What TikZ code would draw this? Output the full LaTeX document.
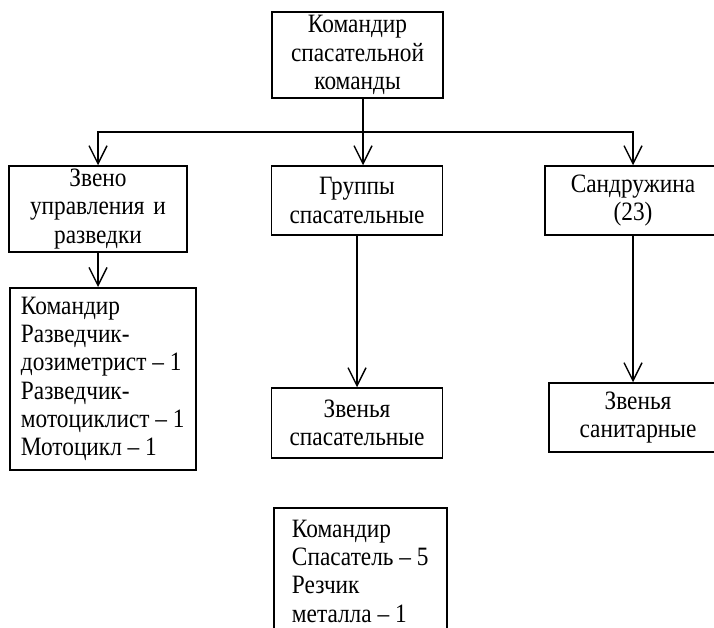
\documentclass[tikz,border=0pt]{standalone}
\usepackage{fontspec}
\setmainfont{Liberation Serif}[FakeStretch=0.88]
\usepackage{tikz}
\usetikzlibrary{arrows.meta,positioning,calc}
\hfuzz=20pt
\tikzstyle{unitBox}=[draw,line width=1.5pt,inner xsep=0pt,inner ysep=0pt,align=center]
\tikzstyle{listBox}=[draw,line width=1.5pt,inner xsep=0pt,align=left,anchor=north west]
\tikzstyle{flowLine}=[line width=1.4pt,-{Straight Barb[length=18pt,width=18pt]}]
\begin{document}
\begin{tikzpicture}[x=1pt,y=-1pt,font={\fontsize{26.5pt}{28.3pt}\selectfont}]
      \useasboundingbox (0,0) rectangle (714,628);
      \clip (0,0) rectangle (714,628);
      \node [unitBox,text width=171pt,minimum height=86pt] (cmd) at (357.5,55) {Командир\\спасательной\\команды};
      \node [unitBox,text width=178pt,minimum height=86pt] (zvUpr) at (98,209) {Звено\\управления и\\разведки};
      \node [unitBox,text width=171pt,minimum height=69pt] (grp) at (357,200.5) {Группы\\спасательные};
      \node [unitBox,text width=176pt,minimum height=69pt] (sanDr) at (633,200.5) {Сандружина\\(23)};
      \node [listBox,minimum width=186pt,minimum height=182pt] (zvList) at (9,287) {Командир\\Разведчик-\\дозиметрист – 1\\Разведчик-\\мотоциклист – 1\\Мотоцикл – 1};
      \node [unitBox,text width=171pt,minimum height=70pt] (zvSpas) at (357,423) {Звенья\\спасательные};
      \node [unitBox,text width=178pt,minimum height=69pt] (zvSan) at (638,417.5) {Звенья\\санитарные};
      \node [listBox,minimum width=173pt,inner ysep=12pt] (spList) at (273,507) {Командир\\Спасатель – 5\\Резчик\\металла – 1};
      \coordinate (split) at (363,132);
      \draw [line width=1.4pt] (cmd.south -| split) -- (split);
      \draw [flowLine] (split) -| (zvUpr.north);
      \draw [flowLine] (split) -- (split |- grp.north);
      \draw [flowLine] (split) -| (sanDr.north);
      \draw [flowLine] (zvUpr.south) -- (zvUpr.south |- zvList.north);
      \draw [flowLine] (grp.south) -- (zvSpas.north);
      \draw [flowLine] (sanDr.south) -- (sanDr.south |- zvSan.north);
    \end{tikzpicture}
\end{document}
